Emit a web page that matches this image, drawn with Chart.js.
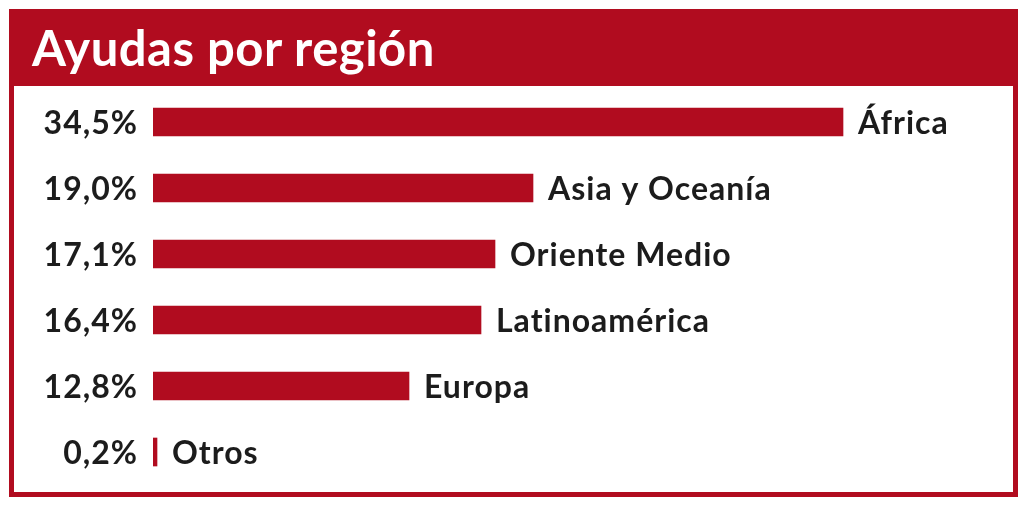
<!DOCTYPE html>
<html>
<head>
<meta charset="utf-8">
<script src="https://cdn.jsdelivr.net/npm/chart.js@4"></script>
<style>
    html, body { margin: 0; padding: 0; background: #fff; }
    body { width: 1030px; height: 509px; position: relative; overflow: hidden; }
    .marco {
        position: absolute; left: 9px; top: 9px; width: 1009px; height: 488px;
        border: 5px solid #b10c1f; box-sizing: border-box;
    }
    .cabecera {
        position: absolute; left: 9px; top: 9px; width: 1009px; height: 77px;
        background: #b10c1f;
    }
    .cabecera h1 {
        margin: 0; position: absolute; left: 23px; top: 12px;
        font: 700 49px Lato, sans-serif; color: #fff; line-height: 52px;
        letter-spacing: 0.5px;
    }
    canvas { position: absolute; left: 0; top: 0; }
</style>
</head>
<body>
<div class="marco"></div>
<div class="cabecera"><h1>Ayudas por región</h1></div>
<canvas id="grafico" width="1030" height="509"></canvas>
<script>
// Datos (porcentaje de ayudas por región)
const regiones    = ["África", "Asia y Oceanía", "Oriente Medio", "Latinoamérica", "Europa", "Otros"];
const porcentajes = [34.5, 19.0, 17.1, 16.4, 12.8, 0.2];
const etiquetasPct = ["34,5%", "19,0%", "17,1%", "16,4%", "12,8%", "0,2%"];

const ROJO  = "#b10c1f";
const TEXTO = "#1c1c1c";
const FUENTE = "700 32px Lato, sans-serif";
const ESPACIADO = 1;

// Dibuja el % a la izquierda y el nombre de la región tras cada barra
const rotulos = {
    id: "rotulos",
    afterDatasetsDraw(chart) {
        const ctx = chart.ctx;
        const meta = chart.getDatasetMeta(0);
        ctx.save();
        ctx.font = FUENTE;
        ctx.letterSpacing = ESPACIADO + "px";
        ctx.fillStyle = TEXTO;
        ctx.textBaseline = "middle";
        meta.data.forEach((bar, i) => {
            const y = bar.y + 2;
            ctx.textAlign = "right";
            ctx.fillText(etiquetasPct[i], chart.chartArea.left - 16 + ESPACIADO, y);
            ctx.textAlign = "left";
            ctx.fillText(regiones[i], bar.x + 15, y);
        });
        ctx.restore();
    }
};

new Chart(document.getElementById("grafico").getContext("2d"), {
    type: "bar",
    data: {
        labels: regiones,
        datasets: [{
            data: porcentajes,
            backgroundColor: ROJO,
            borderWidth: 0,
            barThickness: 28,
            minBarLength: 4,
        }],
    },
    options: {
        indexAxis: "y",
        responsive: false,
        animation: false,
        devicePixelRatio: 1,
        layout: { padding: { left: 153, right: 77, top: 89, bottom: 24 } },
        scales: {
            x: { min: 0, max: 40, display: false },
            y: { display: false },
        },
        plugins: {
            legend: { display: false },
            tooltip: { enabled: false },
        },
    },
    plugins: [rotulos],
});
</script>
</body>
</html>
